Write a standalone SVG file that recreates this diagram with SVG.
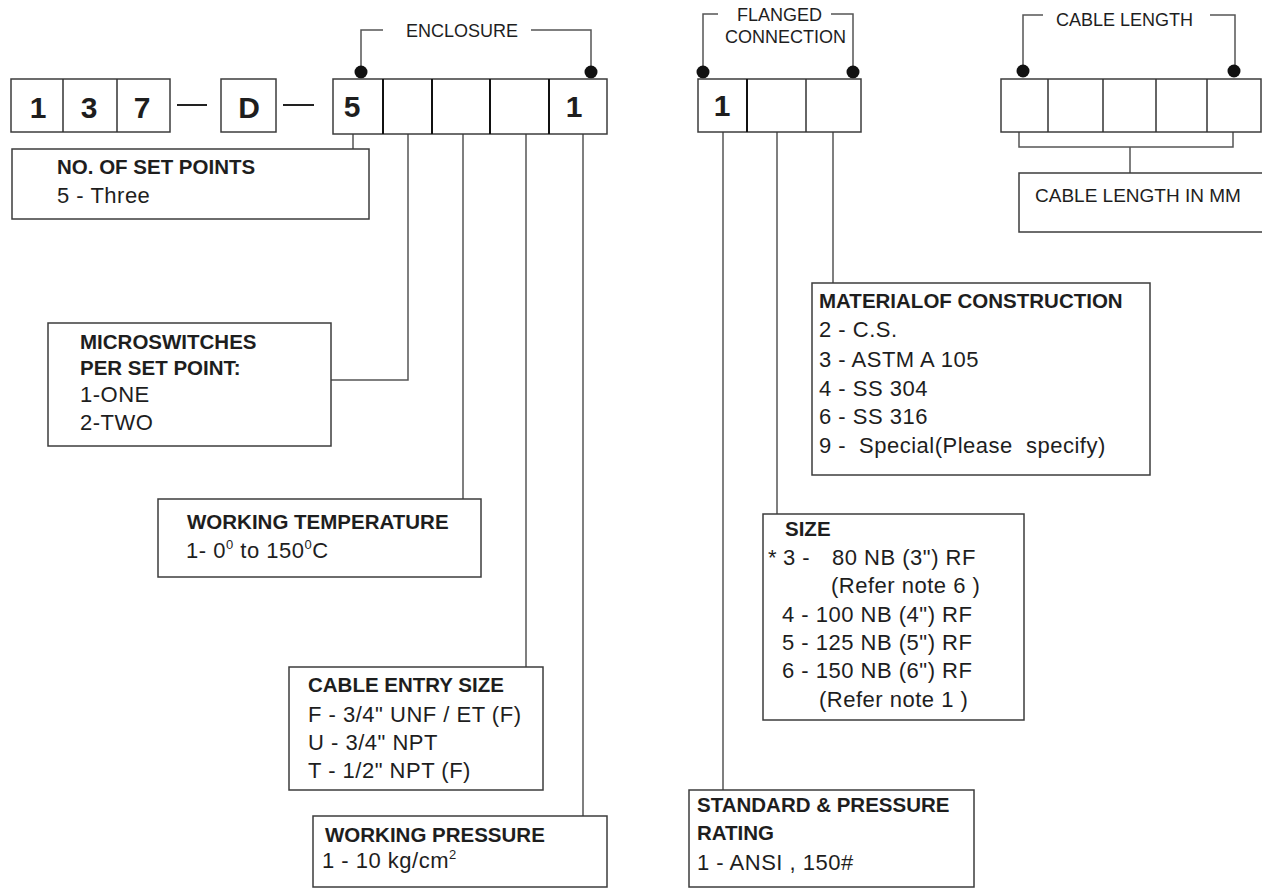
<svg xmlns="http://www.w3.org/2000/svg" width="1262" height="888" viewBox="0 0 1262 888">
<style>
.bg{fill:#fff}
.box{fill:#fff;stroke:#3c3c3c;stroke-width:1.5}
.dv{stroke:#333;stroke-width:1.5}
.dvk{stroke:#111;stroke-width:2}
.ln{stroke:#555;stroke-width:1.5;fill:none}
.dash{stroke:#222;stroke-width:2}
.dot{fill:#111}
text{font-family:"Liberation Sans",Arial,sans-serif;fill:#1e1e1e}
.b{font-weight:bold;font-size:20.5px}
.r{font-size:22px;letter-spacing:0.5px}
.lbl{font-size:18px}
.dig{font-weight:bold;font-size:30px;text-anchor:middle}
</style>
<rect class="bg" x="0" y="0" width="1262" height="888"/>

<g id="connectors">
  <polyline class="ln" points="383,30 361,30 361,66"/>
  <polyline class="ln" points="531,30 591,30 591,66"/>
  <polyline class="ln" points="718,14 703,14 703,66"/>
  <polyline class="ln" points="831,14 853,14 853,66"/>
  <polyline class="ln" points="1043,15 1023,15 1023,66"/>
  <polyline class="ln" points="1210,15 1235,15 1235,66"/>
  <line class="dash" x1="177" y1="105" x2="207" y2="105"/>
  <line class="dash" x1="283" y1="105" x2="314" y2="105"/>
  <line class="ln" x1="353" y1="134" x2="353" y2="149"/>
  <polyline class="ln" points="408,134 408,380 331,380"/>
  <line class="ln" x1="463" y1="134" x2="463" y2="499"/>
  <line class="ln" x1="526" y1="134" x2="526" y2="667"/>
  <line class="ln" x1="583" y1="134" x2="583" y2="816"/>
  <line class="ln" x1="723" y1="132" x2="723" y2="790"/>
  <line class="ln" x1="777" y1="132" x2="777" y2="514"/>
  <line class="ln" x1="833" y1="132" x2="833" y2="283"/>
  <polyline class="ln" points="1019,132 1019,147 1233,147 1233,132"/>
  <line class="ln" x1="1130" y1="147" x2="1130" y2="173"/>
</g>

<g id="code-137">
  <rect class="box" x="11" y="79" width="159" height="53"/>
  <line class="dv" x1="63" y1="79" x2="63" y2="132"/>
  <line class="dv" x1="117" y1="79" x2="117" y2="132"/>
  <text class="dig" x="38" y="118">1</text>
  <text class="dig" x="89" y="118">3</text>
  <text class="dig" x="142" y="118">7</text>
</g>

<g id="code-D">
  <rect class="box" x="221" y="79" width="55" height="53"/>
  <text class="dig" x="249" y="118">D</text>
</g>

<g id="enclosure">
  <text class="lbl" x="406" y="37">ENCLOSURE</text>
  <circle class="dot" cx="361" cy="72" r="6.5"/>
  <circle class="dot" cx="591" cy="72" r="6.5"/>
  <rect class="box" x="333" y="79" width="274" height="55"/>
  <line class="dvk" x1="383" y1="79" x2="383" y2="134"/>
  <line class="dvk" x1="432" y1="79" x2="432" y2="134"/>
  <line class="dvk" x1="490" y1="79" x2="490" y2="134"/>
  <line class="dvk" x1="549" y1="79" x2="549" y2="134"/>
  <text class="dig" x="352" y="117">5</text>
  <text class="dig" x="574" y="117">1</text>
</g>

<g id="flanged-connection">
  <text class="lbl" x="737" y="21">FLANGED</text>
  <text class="lbl" x="725" y="43">CONNECTION</text>
  <circle class="dot" cx="703" cy="72" r="6.5"/>
  <circle class="dot" cx="853" cy="72" r="6.5"/>
  <rect class="box" x="698" y="79" width="163" height="53"/>
  <line class="dvk" x1="747" y1="79" x2="747" y2="132"/>
  <line class="dv" x1="806" y1="79" x2="806" y2="132"/>
  <text class="dig" x="722" y="116">1</text>
</g>

<g id="cable-length">
  <text class="lbl" x="1056" y="26">CABLE LENGTH</text>
  <circle class="dot" cx="1023" cy="71" r="6.5"/>
  <circle class="dot" cx="1234" cy="71" r="6.5"/>
  <rect class="box" x="1001" y="79" width="260" height="53"/>
  <line class="dv" x1="1048" y1="79" x2="1048" y2="132"/>
  <line class="dv" x1="1103" y1="79" x2="1103" y2="132"/>
  <line class="dv" x1="1156" y1="79" x2="1156" y2="132"/>
  <line class="dv" x1="1207" y1="79" x2="1207" y2="132"/>
</g>

<g id="cable-length-mm">
  <rect class="box" x="1019" y="173" width="260" height="59"/>
  <text x="1035" y="202" style="font-size:19px">CABLE LENGTH IN MM</text>
</g>

<g id="set-points">
  <rect class="box" x="12" y="149" width="357" height="70"/>
  <text class="b" x="57" y="174">NO. OF SET POINTS</text>
  <text class="r" x="57" y="203">5 - Three</text>
</g>

<g id="microswitches">
  <rect class="box" x="48" y="323" width="283" height="123"/>
  <text class="b" x="80" y="349">MICROSWITCHES</text>
  <text class="b" x="80" y="375">PER SET POINT:</text>
  <text class="r" x="80" y="402">1-ONE</text>
  <text class="r" x="80" y="430">2-TWO</text>
</g>

<g id="working-temperature">
  <rect class="box" x="158" y="499" width="323" height="78"/>
  <text class="b" x="187" y="529">WORKING TEMPERATURE</text>
  <text class="r" x="186" y="558">1- 0<tspan font-size="13" dy="-9">0</tspan><tspan dy="9"> to 150</tspan><tspan font-size="13" dy="-9">0</tspan><tspan dy="9">C</tspan></text>
</g>

<g id="cable-entry-size">
  <rect class="box" x="289" y="667" width="254" height="123"/>
  <text class="b" x="308" y="692">CABLE ENTRY SIZE</text>
  <text class="r" x="308" y="722">F - 3/4" UNF / ET (F)</text>
  <text class="r" x="308" y="750">U - 3/4" NPT</text>
  <text class="r" x="308" y="778">T - 1/2" NPT (F)</text>
</g>

<g id="working-pressure">
  <rect class="box" x="313" y="816" width="294" height="71"/>
  <text class="b" x="325" y="842">WORKING PRESSURE</text>
  <text class="r" x="322" y="868">1 - 10 kg/cm<tspan font-size="13" dy="-9">2</tspan></text>
</g>

<g id="material">
  <rect class="box" x="812" y="283" width="338" height="192"/>
  <text class="b" x="819" y="308">MATERIALOF CONSTRUCTION</text>
  <text class="r" x="819" y="337">2 - C.S.</text>
  <text class="r" x="819" y="367">3 - ASTM A 105</text>
  <text class="r" x="819" y="396">4 - SS 304</text>
  <text class="r" x="819" y="424">6 - SS 316</text>
  <text class="r" x="819" y="453">9 - <tspan x="859">Special(Please</tspan><tspan x="1026">specify)</tspan></text>
</g>

<g id="size">
  <rect class="box" x="763" y="514" width="261" height="206"/>
  <text class="b" x="785" y="536">SIZE</text>
  <text class="r" x="768" y="565">*<tspan x="783">3 -</tspan><tspan x="832">80 NB (3") RF</tspan></text>
  <text class="r" x="831" y="593">(Refer note 6 )</text>
  <text class="r" x="782" y="622">4 - 100 NB (4") RF</text>
  <text class="r" x="782" y="650">5 - 125 NB (5") RF</text>
  <text class="r" x="782" y="678">6 - 150 NB (6") RF</text>
  <text class="r" x="819" y="707">(Refer note 1 )</text>
</g>

<g id="standard-pressure">
  <rect class="box" x="689" y="790" width="285" height="97"/>
  <text class="b" x="697" y="812">STANDARD &amp; PRESSURE</text>
  <text class="b" x="697" y="840">RATING</text>
  <text class="r" x="697" y="870">1 - ANSI , 150#</text>
</g>
</svg>
